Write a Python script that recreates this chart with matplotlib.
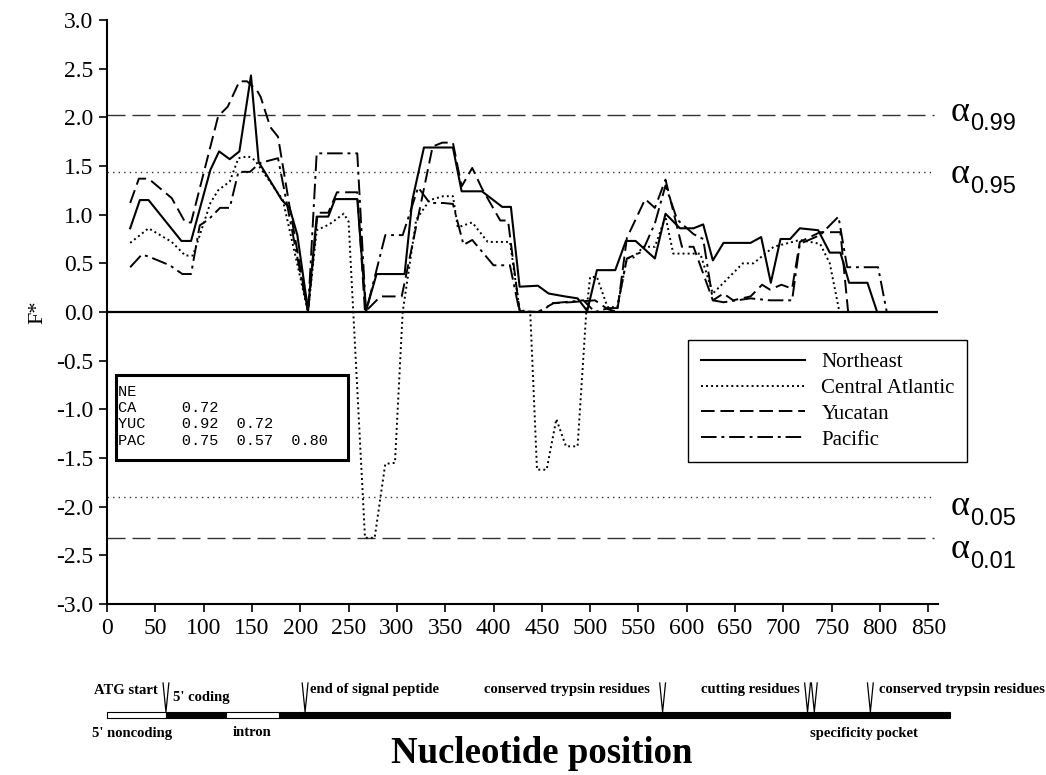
import matplotlib
matplotlib.use('Agg')
import matplotlib.pyplot as plt
from matplotlib.patches import Rectangle
from matplotlib.ticker import MultipleLocator, FormatStrFormatter

# F* sliding window values
ne_x = [24, 34, 43, 77, 87, 107, 116, 127, 137, 149, 157, 181, 189, 197, 208, 217, 229,
        236, 259, 268, 279, 308, 316, 328, 358, 367, 388, 409, 418, 427, 446, 457, 474,
        487, 497, 507, 526, 537, 547, 567, 578, 593, 607, 617, 627, 638, 666, 677, 687,
        697, 707, 717, 736, 748, 759, 768, 787, 797, 840]
ne_y = [0.86, 1.15, 1.15, 0.73, 0.73, 1.46, 1.65, 1.57, 1.65, 2.43, 1.54, 1.15, 1.07, 0.79,
        0.02, 0.98, 0.98, 1.16, 1.16, 0.01, 0.39, 0.39, 1.15, 1.69, 1.69, 1.24, 1.24, 1.08,
        1.08, 0.26, 0.27, 0.19, 0.16, 0.14, 0.01, 0.43, 0.43, 0.73, 0.73, 0.55, 1.01, 0.86,
        0.86, 0.90, 0.53, 0.71, 0.71, 0.77, 0.30, 0.75, 0.75, 0.86, 0.84, 0.61, 0.61, 0.30,
        0.30, 0.0, 0.0]

ca_x = [24, 43, 67, 81, 89, 107, 115, 127, 136, 146, 153, 182, 208, 217, 230, 245, 250,
        267, 277, 288, 298, 306, 320, 334, 348, 358, 363, 378, 394, 417, 427, 438, 445,
        455, 465, 475, 487, 496, 500, 507, 518, 528, 538, 545, 555, 567, 578, 586, 614,
        627, 658, 669, 690, 717, 738, 748, 758, 840]
ca_y = [0.71, 0.86, 0.72, 0.58, 0.58, 1.12, 1.25, 1.34, 1.58, 1.60, 1.56, 1.15, 0.0, 0.84,
        0.90, 1.01, 0.93, -2.32, -2.32, -1.56, -1.55, 0.0, 0.95, 1.15, 1.19, 1.19, 0.87,
        0.92, 0.72, 0.72, 0.02, 0.0, -1.62, -1.62, -1.10, -1.38, -1.38, 0.0, 0.36, 0.36,
        0.05, 0.05, 0.55, 0.56, 0.67, 0.67, 0.98, 0.60, 0.60, 0.19, 0.50, 0.50, 0.67, 0.74,
        0.70, 0.50, 0.0, 0.0]

yuc_x = [24, 33, 43, 67, 81, 87, 115, 125, 137, 145, 155, 159, 169, 177, 189, 208, 218,
         229, 238, 259, 267, 283, 305, 337, 347, 358, 367, 378, 388, 407, 415, 427, 446,
         462, 479, 505, 518, 528, 538, 557, 567, 578, 595, 607, 627, 638, 648, 666, 678,
         686, 698, 709, 717, 738, 759, 767, 840]
yuc_y = [1.12, 1.37, 1.37, 1.17, 0.92, 0.92, 2.01, 2.11, 2.37, 2.37, 2.28, 2.21, 1.90, 1.80,
         1.08, 0.0, 1.02, 1.02, 1.23, 1.23, 0.0, 0.16, 0.16, 1.70, 1.74, 1.74, 1.29, 1.48,
         1.27, 0.94, 0.94, 0.01, 0.0, 0.09, 0.10, 0.12, 0.03, 0.0, 0.76, 1.16, 1.07, 1.36,
         0.67, 0.67, 0.12, 0.19, 0.12, 0.16, 0.28, 0.23, 0.28, 0.24, 0.72, 0.82, 0.82, 0.0,
         0.0]

pac_x = [24, 36, 43, 65, 78, 87, 96, 105, 117, 127, 136, 148, 158, 177, 208, 217, 259,
         268, 288, 306, 322, 334, 348, 358, 369, 378, 400, 417, 427, 450, 460, 472, 493,
         505, 519, 528, 538, 554, 567, 578, 590, 607, 617, 627, 638, 666, 686, 709, 717,
         738, 757, 766, 798, 807, 840]
pac_y = [0.46, 0.59, 0.57, 0.48, 0.39, 0.39, 0.89, 0.95, 1.07, 1.07, 1.44, 1.44, 1.53, 1.58,
         0.0, 1.63, 1.63, 0.0, 0.79, 0.79, 1.28, 1.12, 1.12, 1.11, 0.69, 0.74, 0.48, 0.48,
         0.0, 0.0, 0.09, 0.10, 0.12, 0.0, 0.04, 0.04, 0.55, 0.62, 0.91, 1.30, 0.95, 0.80,
         0.75, 0.12, 0.10, 0.14, 0.12, 0.12, 0.70, 0.79, 0.98, 0.46, 0.46, 0.0, 0.0]

series_names = ['Northeast', 'Central Atlantic', 'Yucatan', 'Pacific']

# significance thresholds
alpha_names = ['0.99', '0.95', '0.05', '0.01']
alpha_vals = [2.02, 1.44, -1.90, -2.32]

# pairwise table shown in the inset
pop_codes = ['NE', 'CA', 'YUC', 'PAC']
pair_vals = [[], [0.72], [0.92, 0.72], [0.75, 0.57, 0.80]]

# gene structure along the nucleotide axis
gene_open = [(0, 61), (123, 178)]        # 5' noncoding, intron
gene_filled = [(61, 123), (178, 872)]    # coding parts
gene_marks = [61, 205, 575, 725, 732, 790]

plt.rcParams['font.family'] = ['Liberation Serif', 'DejaVu Serif']

fig = plt.figure(figsize=(10.46, 7.75), dpi=100)
W, H = 1046.0, 775.0
ax_l, ax_r, ax_t, ax_b = 107, 938, 20, 604
ax = fig.add_axes([ax_l / W, 1 - ax_b / H, (ax_r - ax_l) / W, (ax_b - ax_t) / H])

styles = {
    'Northeast': dict(ls='-', lw=1.5),
    'Central Atlantic': dict(ls=(0, (1, 1.6)), lw=1.4),
    'Yucatan': dict(ls=(0, (7, 3)), lw=1.4),
    'Pacific': dict(ls=(0, (8, 2.5, 1.5, 2.5)), lw=1.4),
}
data = {'Northeast': (ne_x, ne_y), 'Central Atlantic': (ca_x, ca_y),
        'Yucatan': (yuc_x, yuc_y), 'Pacific': (pac_x, pac_y)}

ax.axhline(0, color='black', lw=1.6, zorder=1)
lines = []
for name in series_names:
    xs, ys = data[name]
    ln, = ax.plot(xs, ys, color='black', label=name, zorder=3, **styles[name])
    lines.append(ln)

# threshold lines
alpha_ls = [(0, (13, 5)), (0, (1, 3)), (0, (1, 3)), (0, (13, 5))]
for v, ls in zip(alpha_vals, alpha_ls):
    ax.axhline(v, color='#333333', lw=1.0, ls=ls, xmax=0.995, zorder=2)

ax.set_xlim(0, 860)
ax.set_ylim(-3, 3)
ax.xaxis.set_major_locator(MultipleLocator(50))
ax.yaxis.set_major_locator(MultipleLocator(0.5))
ax.yaxis.set_major_formatter(FormatStrFormatter('%.1f'))
for s in ['top', 'right']:
    ax.spines[s].set_visible(False)
for s in ['left', 'bottom']:
    ax.spines[s].set_linewidth(1.5)
ax.tick_params(direction='out', length=6, width=1.2, labelsize=17, pad=4)
ax.set_ylabel('F*', fontsize=16, labelpad=6)

# alpha labels to the right of the axes
alpha_dy = [-3, 3, 10, 12]
for name, v, dy in zip(alpha_names, alpha_vals, alpha_dy):
    ypx = 312 - v * 97.3 + dy
    fig.text(951 / W, 1 - ypx / H, '\u03b1', fontsize=26, va='center', ha='left')
    fig.text(970 / W, 1 - (ypx + 12) / H, name, fontsize=17, va='center', ha='left',
             family=['Liberation Sans', 'DejaVu Sans'])

# legend
leg = ax.legend(handles=lines, loc='upper left',
                bbox_to_anchor=((688 - ax_l) / (ax_r - ax_l), (ax_b - 340) / (ax_b - ax_t)),
                fontsize=15, frameon=True, fancybox=False, framealpha=1,
                edgecolor='black', handlelength=5.0, handletextpad=0.8,
                labelspacing=0.3, borderpad=0.6, borderaxespad=0)
leg.get_frame().set_linewidth(1.0)

# inset table with the pairwise values
fx = lambda px: (px - ax_l) / (ax_r - ax_l)
fy = lambda py: (ax_b - py) / (ax_b - ax_t)
ax.add_patch(Rectangle((fx(116), fy(460)), fx(348) - fx(116), fy(375) - fy(460),
                       transform=ax.transAxes, fill=True, facecolor='white',
                       edgecolor='black', lw=2.2, zorder=5))
rows = []
for code, vals in zip(pop_codes, pair_vals):
    rows.append(code.ljust(7) + '  '.join('%.2f' % v for v in vals))
ax.text(fx(118), fy(385), '\n'.join(rows), transform=ax.transAxes, va='top', ha='left',
        family=['Liberation Mono', 'DejaVu Sans Mono'], fontsize=11, linespacing=1.2,
        zorder=6)

# gene diagram below the axis
g_top, g_bot = 660, 745
gax = fig.add_axes([ax_l / W, 1 - g_bot / H, (ax_r - ax_l) / W, (g_bot - g_top) / H])
gax.set_xlim(0, 860)
gax.set_ylim(0, g_bot - g_top)
gax.axis('off')
for a, b in gene_filled:
    gax.add_patch(Rectangle((a, 27), b - a, 6, facecolor='black', edgecolor='black',
                            lw=0.8, clip_on=False))
for a, b in gene_open:
    gax.add_patch(Rectangle((a, 27), b - a, 6, facecolor='white', edgecolor='black',
                            lw=0.8, clip_on=False, zorder=3))
for m in gene_marks:
    gax.plot([m - 3, m, m + 3], [62, 33, 62], color='black', lw=0.9, clip_on=False)

lab = dict(fontsize=10.5, fontweight='bold', clip_on=False)
gax.text(53, 55, 'ATG start', ha='right', va='center', **lab)
gax.text(68, 47, "5' coding", ha='left', va='center', **lab)
gax.text(210, 55, 'end of signal peptide', ha='left', va='center', **lab)
gax.text(562, 55, 'conserved trypsin residues', ha='right', va='center', **lab)
gax.text(717, 55, 'cutting residues', ha='right', va='center', **lab)
gax.text(799, 55, 'conserved trypsin residues', ha='left', va='center', **lab)
gax.text(26, 12, "5' noncoding", ha='center', va='center', **lab)
gax.text(150, 12, 'intron', ha='center', va='center', **lab)
gax.text(783, 12, 'specificity pocket', ha='center', va='center', **lab)

fig.text(542 / W, 1 - 763 / H, 'Nucleotide position', ha='center', va='baseline',
         fontsize=26.5, fontweight='bold')

fig.savefig('out.png', dpi=100, facecolor='white')
